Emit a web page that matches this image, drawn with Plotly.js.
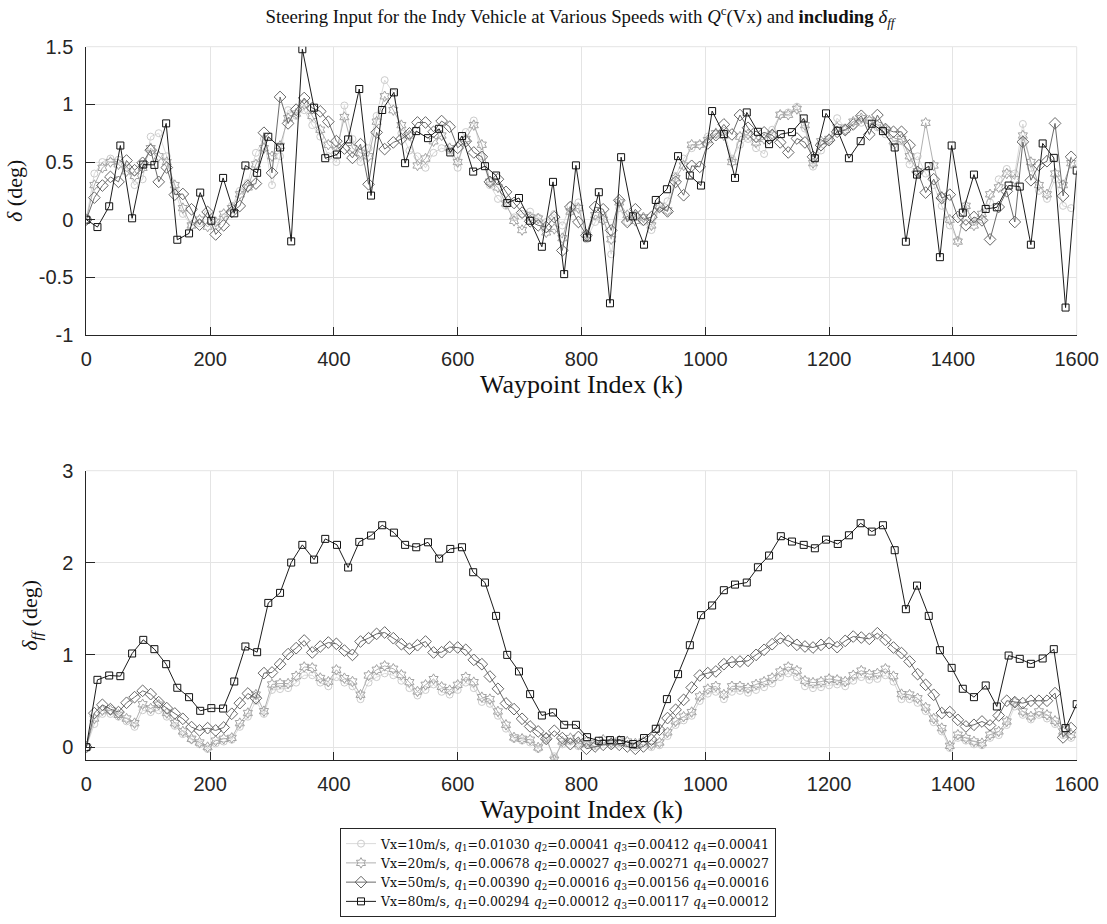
<!DOCTYPE html>
<html><head><meta charset="utf-8">
<script src="https://cdn.plot.ly/plotly-3.0.1.min.js"></script>
<style>body{margin:0;background:#fff}#chart{width:1107px;height:924px}</style>
</head><body><div id="chart"></div>
<script>
// Waypoint indices of the sampled points
const kCoarse = [0,18,37,55,74,92,110,129,147,166,184,202,221,239,257,276,294,313,331,349,368,386,405,423,441,460,478,497,515,533,552,570,588,607,625,644,662,680,699,717,736,754,772,791,809,828,846,864,883,901,920,938,956,975,993,1011,1030,1048,1067,1085,1103,1122,1140,1159,1177,1195,1214,1232,1251,1269,1287,1306,1324,1342,1361,1379,1398,1416,1434,1453,1471,1490,1508,1526,1545,1563,1582,1600];
const kFine = [0,13,26,39,52,65,78,91,104,117,130,143,156,170,183,196,209,222,235,248,261,274,287,300,313,326,339,352,365,378,391,404,417,430,443,456,469,482,496,509,522,535,548,561,574,587,600,613,626,639,652,665,678,691,704,717,730,743,756,769,782,795,808,822,835,848,861,874,887,900,913,926,939,952,965,978,991,1004,1017,1030,1043,1056,1069,1082,1095,1108,1121,1134,1148,1161,1174,1187,1200,1213,1226,1239,1252,1265,1278,1291,1304,1317,1330,1343,1356,1369,1382,1395,1408,1421,1434,1447,1460,1474,1487,1500,1513,1526,1539,1552,1565,1578,1591];

// Top plot: steering input delta (deg)
const delta10 = [0.00,0.40,0.50,0.53,0.52,0.45,0.30,0.35,0.72,0.75,0.55,0.25,0.05,-0.05,-0.03,0.05,-0.05,0.02,0.12,0.25,0.32,0.58,0.70,0.30,0.55,0.95,0.90,0.95,0.82,0.72,0.55,
 0.50,0.99,0.70,0.50,0.62,0.90,1.21,1.10,0.75,0.60,0.55,0.45,0.58,0.62,0.60,0.45,0.76,0.86,0.55,0.30,0.18,0.12,0.02,0.05,0.07,0.02,-0.02,0.05,-0.05,0.12,0.15,
 -0.17,-0.02,0.04,-0.30,0.10,-0.02,0.04,-0.02,-0.09,0.10,0.16,0.38,0.53,0.62,0.65,0.72,0.74,0.77,0.53,0.65,0.70,0.62,0.57,0.78,0.91,0.93,0.98,0.79,0.46,0.60,0.68,
 0.88,0.80,0.82,0.84,0.86,0.80,0.74,0.65,0.68,0.48,0.55,0.40,0.30,0.12,-0.05,-0.18,0.10,-0.02,0.00,0.15,0.35,0.44,0.40,0.83,0.45,0.25,0.18,0.35,0.12,0.10];
const delta20 = [0.00,0.30,0.45,0.50,0.48,0.42,0.38,0.45,0.62,0.55,0.50,0.30,0.10,-0.05,0.00,-0.06,-0.02,0.05,0.10,0.22,0.28,0.48,0.62,0.55,0.64,0.88,0.92,1.00,0.90,0.78,0.65,
 0.60,0.89,0.62,0.58,0.55,0.85,1.07,0.95,0.82,0.73,0.47,0.53,0.68,0.73,0.62,0.50,0.70,0.82,0.65,0.33,0.28,0.14,-0.01,-0.09,0.02,0.01,-0.11,-0.08,-0.16,0.07,0.10,
 -0.13,0.04,0.00,-0.17,0.15,0.04,-0.01,0.02,-0.05,0.12,0.08,0.36,0.47,0.65,0.65,0.69,0.75,0.73,0.50,0.72,0.74,0.67,0.70,0.74,0.91,0.91,0.96,0.82,0.49,0.68,0.70,
 0.80,0.78,0.85,0.88,0.86,0.82,0.78,0.68,0.70,0.55,0.42,0.84,0.47,0.20,0.00,-0.19,0.12,-0.05,0.05,0.22,0.28,0.40,0.35,0.73,0.50,0.30,0.22,0.40,0.30,0.49];
const delta50 = [0,0.191,0.296,0.371,0.328,0.513,0.429,0.493,0.603,0.328,0.452,0.217,0.223,0.090,-0.043,0.067,-0.128,-0.049,0.067,0.119,0.293,0.313,0.754,0.406,1.064,0.835,0.954,1.055,0.968,0.939,0.850,
 0.681,0.617,0.536,0.655,0.307,0.757,0.612,0.670,0.699,0.748,0.843,0.843,0.762,0.855,0.806,0.623,0.681,0.583,0.545,0.328,0.351,0.241,0.145,0.061,-0.014,-0.049,-0.064,0.023,-0.267,0.110,-0.020,
 -0.136,0.110,0.090,-0.093,0.168,-0.020,0.090,0.000,0.023,0.110,0.072,0.328,0.212,0.467,0.458,0.661,0.733,0.826,0.739,0.907,0.797,0.719,0.757,0.733,0.670,0.583,0.704,0.670,0.545,0.646,0.690,
 0.762,0.777,0.826,0.901,0.739,0.907,0.786,0.762,0.762,0.646,0.414,0.235,0.351,0.188,0.217,0.023,-0.049,0.023,-0.006,-0.171,0.110,0.246,-0.020,0.675,0.342,0.472,0.507,0.835,0.206,0.545];
const delta80 = [0,-0.064,0.116,0.643,0.012,0.478,0.475,0.835,-0.174,-0.119,0.235,-0.009,0.362,0.055,0.470,0.406,0.719,0.626,-0.188,1.478,0.971,0.533,
 0.565,0.696,1.133,0.209,0.951,1.104,0.490,0.768,0.707,0.788,0.583,0.725,0.417,0.464,0.383,0.145,0.188,-0.009,-0.235,0.328,-0.472,0.471,
 -0.155,0.238,-0.725,0.542,0.029,-0.217,0.171,0.264,0.551,0.383,0.296,0.942,0.742,0.362,0.930,0.762,0.655,0.742,0.759,0.878,0.533,0.922,
 0.771,0.533,0.681,0.832,0.768,0.626,-0.191,0.391,0.464,-0.325,0.643,0.061,0.391,0.093,0.107,0.296,0.287,-0.217,0.661,0.536,-0.762,0.426];

// Bottom plot: feed-forward steering delta_ff (deg)
const dff10 = [0,0.25,0.36,0.36,0.33,0.28,0.22,0.40,0.38,0.40,0.33,0.23,0.14,0.08,0.03,-0.02,0.04,0.06,0.08,0.22,0.33,0.50,0.36,0.62,0.63,0.64,0.70,0.78,0.78,0.70,0.66,
 0.76,0.70,0.66,0.52,0.70,0.76,0.80,0.78,0.72,0.64,0.56,0.62,0.68,0.60,0.57,0.62,0.70,0.64,0.49,0.47,0.34,0.20,0.09,0.07,0.05,-0.02,0.07,-0.10,0.03,0.06,0.01,
 0.03,0.01,0.05,0.02,0.04,0.03,0.00,0.03,0.00,0.02,0.12,0.24,0.29,0.34,0.50,0.58,0.60,0.52,0.60,0.61,0.59,0.62,0.65,0.69,0.76,0.80,0.76,0.66,0.64,0.65,0.67,
 0.68,0.66,0.72,0.76,0.73,0.74,0.78,0.71,0.52,0.52,0.48,0.39,0.27,0.17,-0.01,0.10,0.07,0.03,0.02,0.10,0.13,0.24,0.44,0.35,0.30,0.35,0.31,0.25,0.13,0.10];
const dff20 = [0,0.31,0.40,0.40,0.35,0.31,0.26,0.465,0.42,0.46,0.37,0.26,0.17,0.09,0.05,0.00,0.07,0.09,0.10,0.26,0.37,0.57,0.39,0.68,0.69,0.69,0.77,0.87,0.86,0.75,0.71,
 0.839,0.748,0.712,0.568,0.777,0.839,0.882,0.850,0.785,0.705,0.604,0.676,0.738,0.654,0.618,0.676,0.759,0.705,0.542,0.521,0.387,0.242,0.105,0.090,0.080,-0.004,0.105,-0.137,0.061,0.098,0.033,
 0.06,0.04,0.08,0.05,0.07,0.06,0.04,0.06,0.03,0.05,0.16,0.28,0.33,0.38,0.55,0.63,0.66,0.57,0.66,0.66,0.64,0.68,0.71,0.75,0.82,0.87,0.83,0.72,0.70,0.71,0.74,
 0.73,0.712,0.78,0.83,0.79,0.80,0.85,0.77,0.575,0.57,0.53,0.43,0.31,0.206,0.014,0.134,0.098,0.061,0.043,0.134,0.170,0.278,0.488,0.387,0.333,0.387,0.35,0.285,0.170,0.134];
const dff50 = [0,0.369,0.459,0.412,0.380,0.481,0.542,0.611,0.575,0.488,0.423,0.365,0.307,0.217,0.181,0.206,0.181,0.213,0.362,0.477,0.582,0.531,0.803,0.810,0.900,1.009,1.074,1.157,1.027,1.092,1.135,
 1.121,1.048,1.001,1.146,1.182,1.229,1.244,1.182,1.117,1.067,1.106,1.146,1.027,1.030,1.085,1.081,1.056,0.947,0.900,0.766,0.633,0.474,0.412,0.307,0.224,0.170,0.090,0.177,0.098,0.033,0.110,
 -0.018,0.007,0.025,0.033,0.025,0.007,-0.018,0.007,0.080,0.188,0.315,0.405,0.513,0.647,0.777,0.803,0.821,0.900,0.922,0.929,0.936,1.001,1.056,1.117,1.182,1.153,1.110,1.092,1.081,1.110,1.128,
 1.085,1.153,1.200,1.189,1.175,1.236,1.164,1.081,1.020,0.929,0.792,0.676,0.568,0.369,0.380,0.296,0.224,0.242,0.278,0.235,0.343,0.503,0.488,0.477,0.503,0.503,0.503,0.586,0.105,0.206];
const dff80 = [0,0.730,0.777,0.770,1.016,1.164,1.063,0.900,0.644,0.542,0.394,0.423,0.419,0.712,1.092,1.030,1.565,1.674,2.003,2.195,2.035,2.260,
 2.195,1.949,2.227,2.296,2.408,2.328,2.195,2.169,2.223,2.046,2.151,2.169,1.898,1.786,1.424,1.001,0.821,0.575,0.343,0.376,0.242,0.242,
 0.108,0.069,0.076,0.076,0.033,0.098,0.199,0.521,0.792,1.106,1.432,1.537,1.703,1.764,1.786,1.952,2.079,2.289,2.231,2.195,2.158,2.252,
 2.205,2.299,2.430,2.339,2.408,2.137,1.497,1.753,1.424,1.052,0.860,0.633,0.542,0.669,0.441,0.994,0.958,0.904,0.962,1.063,0.206,0.466];

// Legend information
const speeds = [10, 20, 50, 80];
const q1 = ['0.01030','0.00678','0.00390','0.00294'];
const q2 = ['0.00041','0.00027','0.00016','0.00012'];
const q3 = ['0.00412','0.00271','0.00156','0.00117'];
const q4 = ['0.00041','0.00027','0.00016','0.00012'];

const SERIF = '"Liberation Serif", "Times New Roman", serif';
const LSERIF = '"DejaVu Serif", "Liberation Serif", serif';
const SANS = '"Liberation Sans", Arial, Helvetica, sans-serif';

const styles = [
  {line:'#dadada', mk:'#cccccc', sym:'circle-open', size:7},
  {line:'#b0b0b0', mk:'#a2a2a2', sym:'hexagram-open', size:8},
  {line:'#6a6a6a', mk:'#666666', sym:'diamond-open', size:9},
  {line:'#1c1c1c', mk:'#111111', sym:'square-open', size:7}
];
function legendName(i) {
  return 'Vx=' + speeds[i] + 'm/s, <i>q</i><sub>1</sub>=' + q1[i] + ' <i>q</i><sub>2</sub>=' + q2[i] +
         ' <i>q</i><sub>3</sub>=' + q3[i] + ' <i>q</i><sub>4</sub>=' + q4[i];
}
const topY = [delta10, delta20, delta50, delta80];
const botY = [dff10, dff20, dff50, dff80];
const xs = [kFine, kFine, kFine, kCoarse];

const traces = [];
for (let i = 0; i < 4; i++) {
  const s = styles[i];
  traces.push({x: xs[i], y: topY[i], xaxis:'x', yaxis:'y', type:'scatter', mode:'lines+markers',
    name: legendName(i), legendgroup:'g'+i, showlegend:true,
    line:{color:s.line, width:1}, marker:{symbol:s.sym, size:s.size, color:s.mk, line:{color:s.mk, width:1}}});
}
for (let i = 0; i < 4; i++) {
  const s = styles[i];
  traces.push({x: xs[i], y: botY[i], xaxis:'x2', yaxis:'y2', type:'scatter', mode:'lines+markers',
    name: legendName(i), legendgroup:'g'+i, showlegend:false,
    line:{color:s.line, width:1}, marker:{symbol:s.sym, size:s.size, color:s.mk, line:{color:s.mk, width:1}}});
}

const W = 1107, H = 924;
const xDom = [86.3/W, 1076.7/W];
const axisCommon = {
  showline:true, linecolor:'#262626', linewidth:1, mirror:false,
  ticks:'inside', tickcolor:'#262626', tickwidth:1,
  showgrid:true, gridcolor:'#e4e4e4', gridwidth:1, zeroline:false,
  tickfont:{family:SANS, size:20, color:'#262626'}
};
const xTicks = [0,200,400,600,800,1000,1200,1400,1600];
function xAxis(anchor) {
  return Object.assign({}, axisCommon, {domain:xDom, anchor:anchor, range:[0,1600], tickmode:'array',
    tickvals:xTicks, ticktext:xTicks.map(String), ticklen:8, ticklabelstandoff:6,
    title:{text:'Waypoint Index (k)', font:{family:SERIF, size:26, color:'#111'}, standoff:5}});
}
const yTopTicks = [-1,-0.5,0,0.5,1,1.5];
const yBotTicks = [0,1,2,3];

const layout = {
  width:W, height:H, autosize:false,
  margin:{l:0, r:0, t:0, b:0},
  paper_bgcolor:'#fff', plot_bgcolor:'#fff',
  title:{text:'Steering Input for the Indy Vehicle at Various Speeds with <i>Q</i><sup>c</sup>(Vx) and <b>including</b> <i>δ</i><sub><i>ff</i></sub>',
    x:580/W, xanchor:'center', y:1-16/H, yanchor:'middle', font:{family:SERIF, size:18.8, color:'#111'}},
  xaxis: xAxis('y'),
  xaxis2: xAxis('y2'),
  yaxis: Object.assign({}, axisCommon, {domain:[(H-335)/H, (H-46.7)/H], anchor:'x', range:[-1,1.5],
    tickmode:'array', tickvals:yTopTicks, ticktext:['-1','-0.5','0','0.5','1','1.5'], ticklen:9, ticklabelstandoff:8,
    title:{text:'<i>δ</i> (deg)', font:{family:SERIF, size:22, color:'#111'}, standoff:10}}),
  yaxis2: Object.assign({}, axisCommon, {domain:[(H-760)/H, (H-470.7)/H], anchor:'x2', range:[-0.14,3],
    tickmode:'array', tickvals:yBotTicks, ticktext:yBotTicks.map(String), ticklen:9, ticklabelstandoff:8,
    title:{text:'<i>δ</i><sub><i>ff</i></sub> (deg)', font:{family:SERIF, size:22, color:'#111'}, standoff:18}}),
  shapes:[
    {type:'line', xref:'x domain', yref:'y domain', x0:0, x1:1, y0:1, y1:1, line:{color:'#e4e4e4', width:1}, layer:'below'},
    {type:'line', xref:'x domain', yref:'y domain', x0:1, x1:1, y0:0, y1:1, line:{color:'#e4e4e4', width:1}, layer:'below'},
    {type:'line', xref:'x2 domain', yref:'y2 domain', x0:0, x1:1, y0:1, y1:1, line:{color:'#e4e4e4', width:1}, layer:'below'},
    {type:'line', xref:'x2 domain', yref:'y2 domain', x0:1, x1:1, y0:0, y1:1, line:{color:'#e4e4e4', width:1}, layer:'below'}
  ],
  showlegend:true,
  legend:{x:340/W, y:(H-828)/H, xanchor:'left', yanchor:'top', bgcolor:'#fff', bordercolor:'#262626', borderwidth:1,
    font:{family:LSERIF, size:12.5, color:'#111'}, tracegroupgap:0, itemwidth:30, traceorder:'normal'}
};

Plotly.newPlot('chart', traces, layout, {displayModeBar:false, staticPlot:true});
</script>
</body></html>
